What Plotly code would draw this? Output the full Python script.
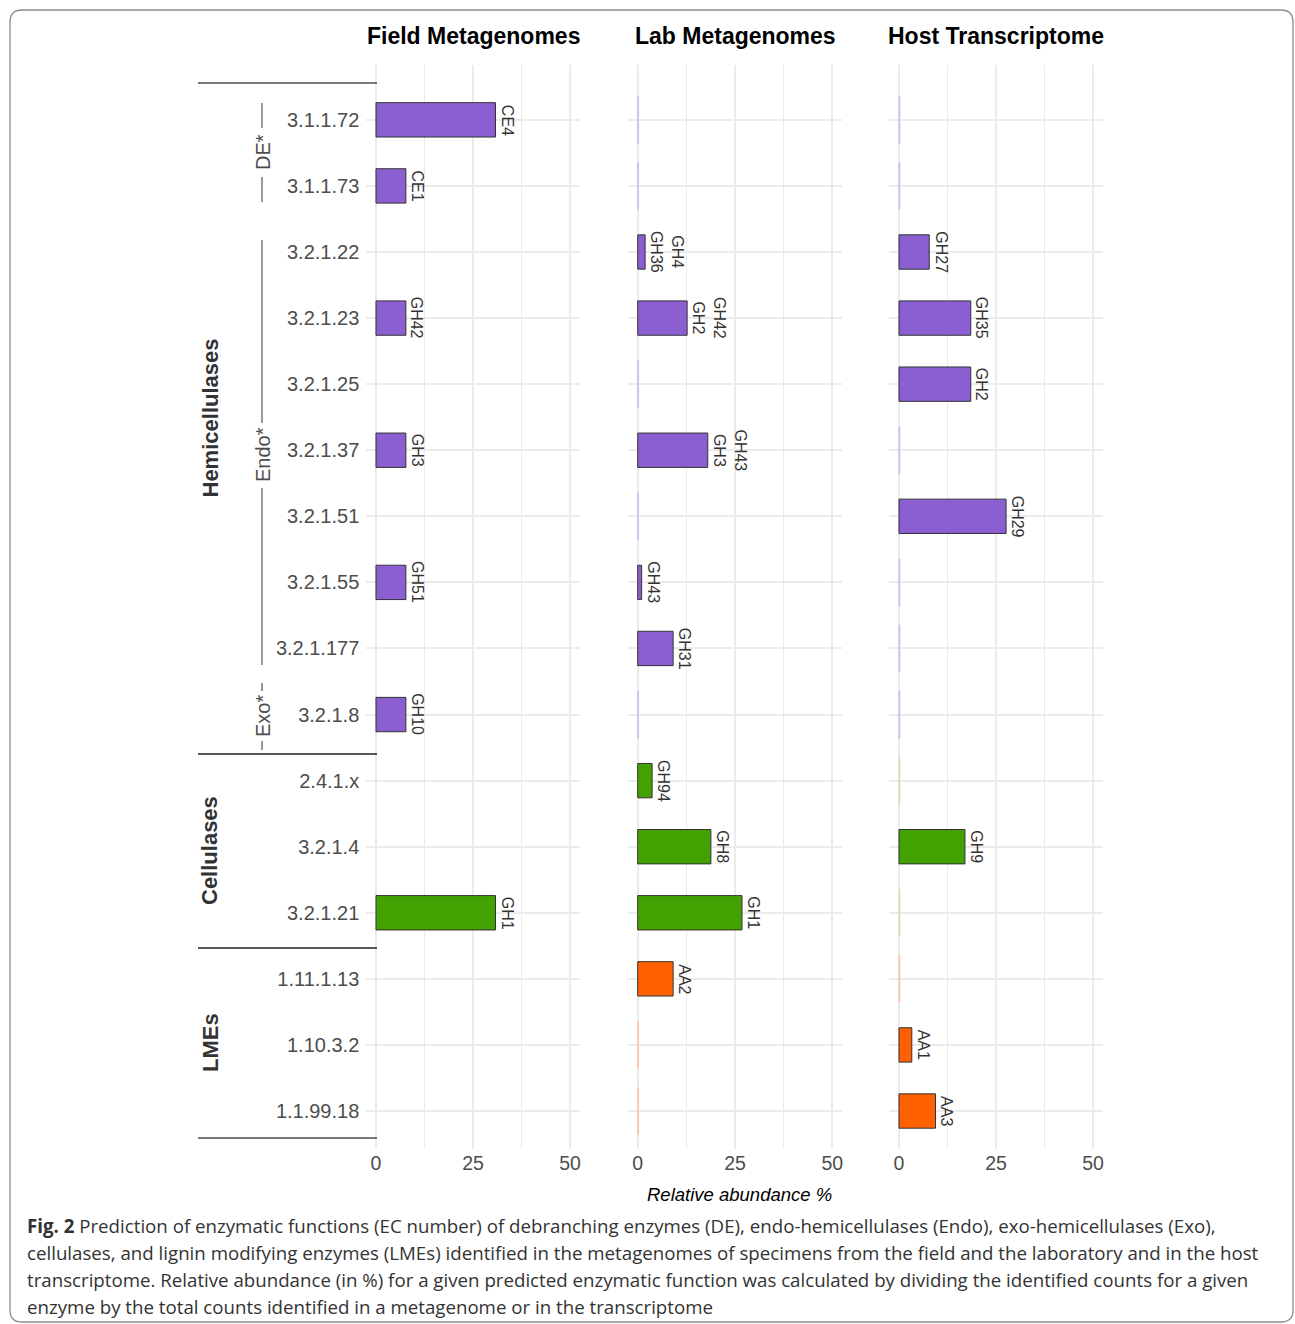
import plotly.graph_objects as go

# ---------------- data ----------------
ec_numbers = ["3.1.1.72", "3.1.1.73", "3.2.1.22", "3.2.1.23", "3.2.1.25", "3.2.1.37",
              "3.2.1.51", "3.2.1.55", "3.2.1.177", "3.2.1.8", "2.4.1.x", "3.2.1.4",
              "3.2.1.21", "1.11.1.13", "1.10.3.2", "1.1.99.18"]
enzyme_class = ["Hemicellulases"] * 10 + ["Cellulases"] * 3 + ["LMEs"] * 3

field_values = [30.8, 7.7, 0, 7.7, 0, 7.7, 0, 7.7, 0, 7.7, 0, 0, 30.8, 0, 0, 0]
field_labels = ["CE4", "CE1", "", "GH42", "", "GH3", "", "GH51", "", "GH10", "", "", "GH1", "", "", ""]

lab_values = [0, 0, 1.9, 12.7, 0, 18.0, 0, 1.0, 9.1, 0, 3.7, 18.8, 26.8, 9.1, 0, 0]
lab_labels = ["", "", "GH4<br>GH36", "GH42<br>GH2", "", "GH43<br>GH3", "", "GH43", "GH31", "",
              "GH94", "GH8", "GH1", "AA2", "", ""]
lab_trace = [1, 1, 0, 0, 1, 0, 1, 0, 0, 1, 0, 0, 0, 0, 1, 1]

host_values = [0, 0, 7.8, 18.5, 18.5, 0, 27.6, 0, 0, 0, 0, 17.0, 0, 0, 3.3, 9.4]
host_labels = ["", "", "GH27", "GH35", "GH2", "", "GH29", "", "", "", "", "GH9", "", "", "AA1", "AA3"]
host_trace = [1, 1, 0, 0, 0, 1, 0, 1, 1, 1, 1, 0, 1, 1, 0, 0]

field_trace = [0] * 16

panel_titles = ["Field Metagenomes", "Lab Metagenomes", "Host Transcriptome"]
x_ticks = [0, 25, 50]
x_minor_ticks = [12.5, 37.5]

class_colors = {"Hemicellulases": "#8B5FD2", "Cellulases": "#43A102", "LMEs": "#FF6102"}
trace_colors = {"Hemicellulases": "#CFC4F2", "Cellulases": "#CDE6BC", "LMEs": "#FBCBAE"}

subgroups = [("DE*", 103, 128, 177, 202, 152),
             ("Endo*", 240, 423, 488, 665, 455),
             ("Exo*", 683, 691, 741, 750, 716)]
class_bands = [("Hemicellulases", 83, 754), ("Cellulases", 754, 948), ("LMEs", 948, 1138)]

# ---------------- layout helpers ----------------
W, H = 1295, 1324
def px(x):
    return x / W
def py(y):
    return 1 - y / H

panel_px = [(366.3, 579.7), (628.0, 842.0), (889.3, 1102.7)]
y_top, y_bot = 65, 1149

GRID = "#EBEBEB"
TXT = "#4D4D4D"
FONT = "Liberation Sans, Arial, Helvetica, sans-serif"

fig = go.Figure()

panels = [(field_values, field_labels, field_trace),
          (lab_values, lab_labels, lab_trace),
          (host_values, host_labels, host_trace)]

annotations = []
for i, (vals, labs, trc) in enumerate(panels):
    xa = "x" if i == 0 else f"x{i+1}"
    ya = "y" if i == 0 else f"y{i+1}"
    # faint trace-level marks
    tr_y = [ec_numbers[k] for k in range(16) if trc[k]]
    if tr_y:
        fig.add_trace(go.Bar(
            orientation="h", x=[0.35] * len(tr_y), y=tr_y, width=0.72,
            marker=dict(color=[trace_colors[enzyme_class[k]] for k in range(16) if trc[k]],
                        line=dict(width=0)),
            xaxis=xa, yaxis=ya, showlegend=False, hoverinfo="skip"))
    idx = [k for k in range(16) if vals[k] > 0]
    fig.add_trace(go.Bar(
        orientation="h",
        x=[vals[k] for k in idx],
        y=[ec_numbers[k] for k in idx],
        width=0.52,
        marker=dict(color=[class_colors[enzyme_class[k]] for k in idx],
                    line=dict(color="#333333", width=1)),
        xaxis=xa, yaxis=ya, showlegend=False))
    for k in idx:
        if labs[k]:
            annotations.append(dict(
                x=vals[k], y=ec_numbers[k], xref=xa, yref=ya, text=labs[k],
                textangle=90, xanchor="left", yanchor="middle", xshift=1,
                showarrow=False, font=dict(family=FONT, size=16, color="#333333")))

    common_x = dict(domain=[px(panel_px[i][0]), px(panel_px[i][1])], range=[-2.5, 52.5],
                    tickvals=x_ticks, ticktext=[str(t) for t in x_ticks],
                    showgrid=True, gridcolor=GRID, gridwidth=1.8, zeroline=False,
                    showline=False, ticks="", anchor=ya,
                    tickfont=dict(family=FONT, size=19.5, color=TXT),
                    minor=dict(tickvals=x_minor_ticks, showgrid=True, gridcolor=GRID, gridwidth=1.4))
    common_y = dict(domain=[py(y_bot), py(y_top)], type="category", categoryorder="array",
                    categoryarray=ec_numbers, range=[15.575, -0.83],
                    showgrid=True, gridcolor=GRID, gridwidth=1.8, zeroline=False,
                    showline=False, ticks="", anchor=xa,
                    showticklabels=(i == 0), ticklabelstandoff=6,
                    tickfont=dict(family=FONT, size=20, color=TXT))
    fig.update_layout(**{("xaxis" if i == 0 else f"xaxis{i+1}"): common_x,
                         ("yaxis" if i == 0 else f"yaxis{i+1}"): common_y})
    # panel title
    annotations.append(dict(x=px((panel_px[i][0] + panel_px[i][1]) / 2), y=py(36),
                            xref="paper", yref="paper", text=f"<b>{panel_titles[i]}</b>",
                            showarrow=False, xanchor="center", yanchor="middle",
                            font=dict(family=FONT, size=23, color="#000000")))

# x-axis title
annotations.append(dict(x=px(739), y=py(1194), xref="paper", yref="paper",
                        text="<i>Relative abundance %</i>", showarrow=False,
                        xanchor="center", yanchor="middle",
                        font=dict(family=FONT, size=18.5, color="#000000")))

shapes = []
# class separators and labels
for name, top, bot in class_bands:
    for yy in (top, bot):
        shapes.append(dict(type="line", xref="paper", yref="paper",
                           x0=px(198), x1=px(377), y0=py(yy), y1=py(yy),
                           line=dict(color="#4D4D4D", width=1.3)))
    annotations.append(dict(x=px(210), y=py((top + bot) / 2), xref="paper", yref="paper",
                            text=f"<b>{name}</b>", textangle=-90, showarrow=False,
                            xanchor="center", yanchor="middle",
                            font=dict(family=FONT, size=22, color="#333333")))

# subgroup brackets
for name, a0, a1, b0, b1, mid in subgroups:
    for (s, e) in ((a0, a1), (b0, b1)):
        shapes.append(dict(type="line", xref="paper", yref="paper",
                           x0=px(262), x1=px(262), y0=py(s), y1=py(e),
                           line=dict(color="#333333", width=1)))
    annotations.append(dict(x=px(263), y=py(mid), xref="paper", yref="paper",
                            text=name, textangle=-90, showarrow=False,
                            xanchor="center", yanchor="middle",
                            font=dict(family=FONT, size=20, color=TXT)))

# caption
caption_lines = [
    "<b>Fig. 2</b> Prediction of enzymatic functions (EC number) of debranching enzymes (DE), endo-hemicellulases (Endo), exo-hemicellulases (Exo),",
    "cellulases, and lignin modifying enzymes (LMEs) identified in the metagenomes of specimens from the field and the laboratory and in the host",
    "transcriptome. Relative abundance (in %) for a given predicted enzymatic function was calculated by dividing the identified counts for a given",
    "enzyme by the total counts identified in a metagenome or in the transcriptome",
]
for j, line in enumerate(caption_lines):
    annotations.append(dict(x=px(25), y=py(1225 + 27 * j), xref="paper", yref="paper",
                            text=line, showarrow=False, xanchor="left", yanchor="middle",
                            font=dict(family="Open Sans, sans-serif", size=18.7, color="#333333")))

# rounded border
x0, x1, yt, yb = px(10), px(1293), py(10), py(1322)
rx, ry = 12 / W, 12 / H
path = (f"M {x0+rx},{yt} L {x1-rx},{yt} Q {x1},{yt} {x1},{yt-ry} L {x1},{yb+ry} "
        f"Q {x1},{yb} {x1-rx},{yb} L {x0+rx},{yb} Q {x0},{yb} {x0},{yb+ry} "
        f"L {x0},{yt-ry} Q {x0},{yt} {x0+rx},{yt} Z")
shapes.append(dict(type="path", xref="paper", yref="paper", path=path,
                   line=dict(color="#8C8C8C", width=1.3)))

fig.update_layout(width=W, height=H, margin=dict(l=0, r=0, t=0, b=0),
                  paper_bgcolor="white", plot_bgcolor="white", barmode="overlay",
                  annotations=annotations, shapes=shapes, showlegend=False)

fig.write_html("out.html", config={"displayModeBar": False},
               post_script="document.body.style.margin='0';document.body.style.overflow='hidden';")
